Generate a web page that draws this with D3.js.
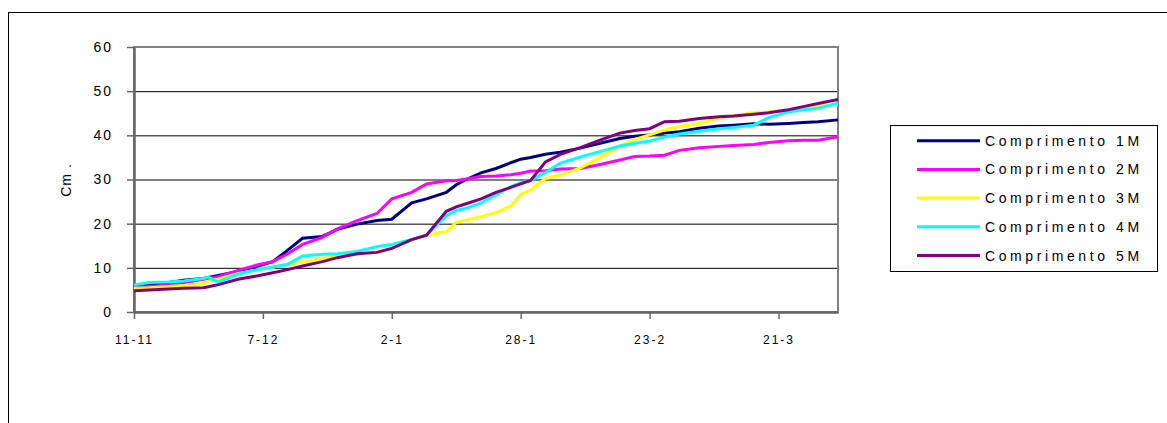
<!DOCTYPE html>
<html>
<head>
<meta charset="utf-8">
<script src="https://cdn.jsdelivr.net/npm/d3@7"></script>
<style>
  body { margin: 0; background: #fff; }
  svg { display: block; font-family: "Liberation Sans", Arial, sans-serif; }
</style>
</head>
<body>
<div id="grafico"></div>
<script>
// Datas de medição
const datas = [
  "2004-11-11","2004-11-14","2004-11-18","2004-11-21","2004-11-25","2004-11-26","2004-11-28",
  "2004-12-02","2004-12-06","2004-12-09","2004-12-12","2004-12-15","2004-12-19","2004-12-22",
  "2004-12-26","2004-12-30","2005-01-02","2005-01-06","2005-01-09","2005-01-13","2005-01-15",
  "2005-01-17","2005-01-20","2005-01-23","2005-01-26","2005-01-28","2005-01-30","2005-02-02",
  "2005-02-05","2005-02-09","2005-02-13","2005-02-17","2005-02-20","2005-02-23","2005-02-26",
  "2005-03-01","2005-03-05","2005-03-09","2005-03-12","2005-03-16","2005-03-19","2005-03-23",
  "2005-03-26","2005-03-29","2005-04-02"
];

const comprimento1M = [5.7,6.3,6.7,7.2,7.6,7.8,8.3,9.2,10.4,11.4,14.0,16.7,17.1,18.7,19.9,20.7,21.0,24.7,25.6,27.1,28.8,30.0,31.5,32.5,33.8,34.6,35.0,35.7,36.2,37.1,38.2,39.3,39.8,40.1,40.5,40.8,41.6,42.1,42.3,42.6,42.5,42.7,42.9,43.1,43.5];
const comprimento2M = [5.5,5.8,6.1,6.6,7.4,7.6,8.0,9.4,10.7,11.4,13.2,15.3,16.9,18.8,20.7,22.3,25.6,27.1,29.0,29.7,29.8,30.1,30.7,30.8,31.1,31.4,31.9,32.0,32.4,32.5,33.4,34.4,35.2,35.3,35.5,36.6,37.2,37.5,37.7,37.9,38.4,38.8,38.9,38.9,39.7];
const comprimento3M = [5.4,5.5,5.8,6.0,6.5,7.0,7.5,8.7,9.5,10.1,10.8,11.3,12.1,12.7,13.0,13.6,14.4,16.3,17.4,18.2,20.3,20.8,21.6,22.5,24.0,26.6,27.7,30.2,31.0,32.6,35.0,37.6,39.1,40.1,41.2,42.0,42.7,43.9,44.5,45.1,45.3,45.7,46.1,46.5,47.1];
const comprimento4M = [6.1,6.7,6.8,7.0,7.6,7.9,6.8,8.6,9.6,10.2,10.8,12.7,13.1,13.2,13.7,14.8,15.3,16.4,17.4,21.8,23.0,23.5,24.7,26.5,28.4,29.2,29.8,31.6,33.7,35.1,36.3,37.6,38.2,38.7,39.6,40.3,40.9,41.5,41.8,42.3,44.0,45.3,45.8,46.1,47.3];
const comprimento5M = [4.8,5.0,5.2,5.4,5.5,5.7,6.2,7.4,8.2,8.9,9.6,10.4,11.4,12.3,13.2,13.5,14.4,16.4,17.4,22.8,23.8,24.5,25.6,27.1,28.2,29.0,29.8,34.0,35.7,37.2,38.9,40.5,41.1,41.5,43.1,43.2,43.8,44.2,44.4,44.8,45.1,45.8,46.5,47.2,48.1];

const nomesSeries = ["Comprimento 1M","Comprimento 2M","Comprimento 3M","Comprimento 4M","Comprimento 5M"];
const coresSeries = ["#000080","#FF00FF","#FFFF00","#00FFFF","#800080"];

const rotulosX = ["11-11","7-12","2-1","28-1","23-2","21-3"];
const ticksY = [0,10,20,30,40,50,60];

const largura = 1167;
const altura = 423;
const area = { left: 134, right: 838, top: 47, bottom: 312 };

const parseData = d3.utcParse("%Y-%m-%d");
const datasParse = datas.map(parseData);
// rótulo "d-m" -> data (nov/dez em 2004, resto em 2005)
const rotuloParaData = r => {
  const [d, m] = r.split("-").map(Number);
  return new Date(Date.UTC(m >= 11 ? 2004 : 2005, m - 1, d));
};

const series = [comprimento1M, comprimento2M, comprimento3M, comprimento4M, comprimento5M]
  .map((valores, i) => ({
    nome: nomesSeries[i],
    cor: coresSeries[i],
    pontos: valores.map((v, j) => ({ data: datasParse[j], valor: v }))
  }));

const svg = d3.select("#grafico").append("svg")
  .attr("width", largura)
  .attr("height", altura);

// moldura externa do gráfico
svg.append("rect")
  .attr("x", 8.5).attr("y", 12.5)
  .attr("width", 1200).attr("height", 500)
  .attr("fill", "none")
  .attr("stroke", "#000")
  .attr("stroke-width", 1);

// Escalas
const escalaX = d3.scaleUtc()
  .domain(d3.extent(datasParse))
  .range([area.left, area.right]);

const escalaY = d3.scaleLinear()
  .domain([0, 60])
  .range([area.bottom, area.top]);

// Linhas de grade
svg.append("g")
  .attr("transform", `translate(${area.left},0)`)
  .call(d3.axisLeft(escalaY).tickValues(ticksY).tickSize(-(area.right - area.left)).tickFormat(""))
  .call(g => g.select(".domain").remove())
  .call(g => g.selectAll("line").attr("stroke", "#000").attr("stroke-width", 1));

// moldura da área de plotagem
svg.append("rect")
  .attr("x", area.left).attr("y", area.top)
  .attr("width", area.right - area.left)
  .attr("height", area.bottom - area.top)
  .attr("fill", "none")
  .attr("stroke", "#808080")
  .attr("stroke-width", 2);

// Eixo Y
svg.append("g")
  .attr("transform", `translate(${area.left},0)`)
  .call(d3.axisLeft(escalaY).tickValues(ticksY).tickSize(7).tickPadding(14).tickSizeOuter(0))
  .call(g => g.select(".domain").attr("stroke", "#666").attr("stroke-width", 2.5))
  .call(g => g.selectAll(".tick line").attr("stroke", "#666").attr("stroke-width", 1.5))
  .call(g => g.selectAll("text")
    .attr("fill", "#000")
    .style("font-size", "14px")
    .style("letter-spacing", "2px"));

// Eixo X
svg.append("g")
  .attr("transform", `translate(0,${area.bottom})`)
  .call(d3.axisBottom(escalaX)
    .tickValues(rotulosX.map(rotuloParaData))
    .tickFormat((d, i) => rotulosX[i])
    .tickSize(7).tickPadding(16).tickSizeOuter(0))
  .call(g => g.select(".domain").attr("stroke", "#666").attr("stroke-width", 2.5))
  .call(g => g.selectAll(".tick line").attr("stroke", "#666").attr("stroke-width", 1.5))
  .call(g => g.selectAll("text")
    .attr("fill", "#000")
    .style("font-size", "12px")
    .style("letter-spacing", "2px"));

// Título do eixo Y
svg.append("text")
  .attr("transform", `translate(71,180) rotate(-90)`)
  .attr("text-anchor", "middle")
  .style("font-size", "14px")
  .style("letter-spacing", "1px")
  .text("Cm .");

// Linhas das séries
const linha = d3.line()
  .x(d => escalaX(d.data))
  .y(d => escalaY(d.valor));

svg.append("g")
  .selectAll("path")
  .data(series)
  .enter()
  .append("path")
  .attr("d", d => linha(d.pontos))
  .attr("fill", "none")
  .attr("stroke", d => d.cor)
  .attr("stroke-width", 3)
  .attr("stroke-linejoin", "miter");

// Legenda
const legenda = svg.append("g");
legenda.append("rect")
  .attr("x", 890.5).attr("y", 125.5)
  .attr("width", 267).attr("height", 146)
  .attr("fill", "#fff")
  .attr("stroke", "#000")
  .attr("stroke-width", 1);

const itens = legenda.selectAll("g.item")
  .data(series)
  .enter()
  .append("g")
  .attr("class", "item")
  .attr("transform", (d, i) => `translate(0,${140.7 + i * 28.7})`);

itens.append("line")
  .attr("x1", 917).attr("x2", 980)
  .attr("stroke", d => d.cor)
  .attr("stroke-width", 3);

itens.append("text")
  .attr("x", 985)
  .attr("dy", "0.36em")
  .style("font-size", "14px")
  .style("letter-spacing", "3.6px")
  .text(d => d.nome);
</script>
</body>
</html>
